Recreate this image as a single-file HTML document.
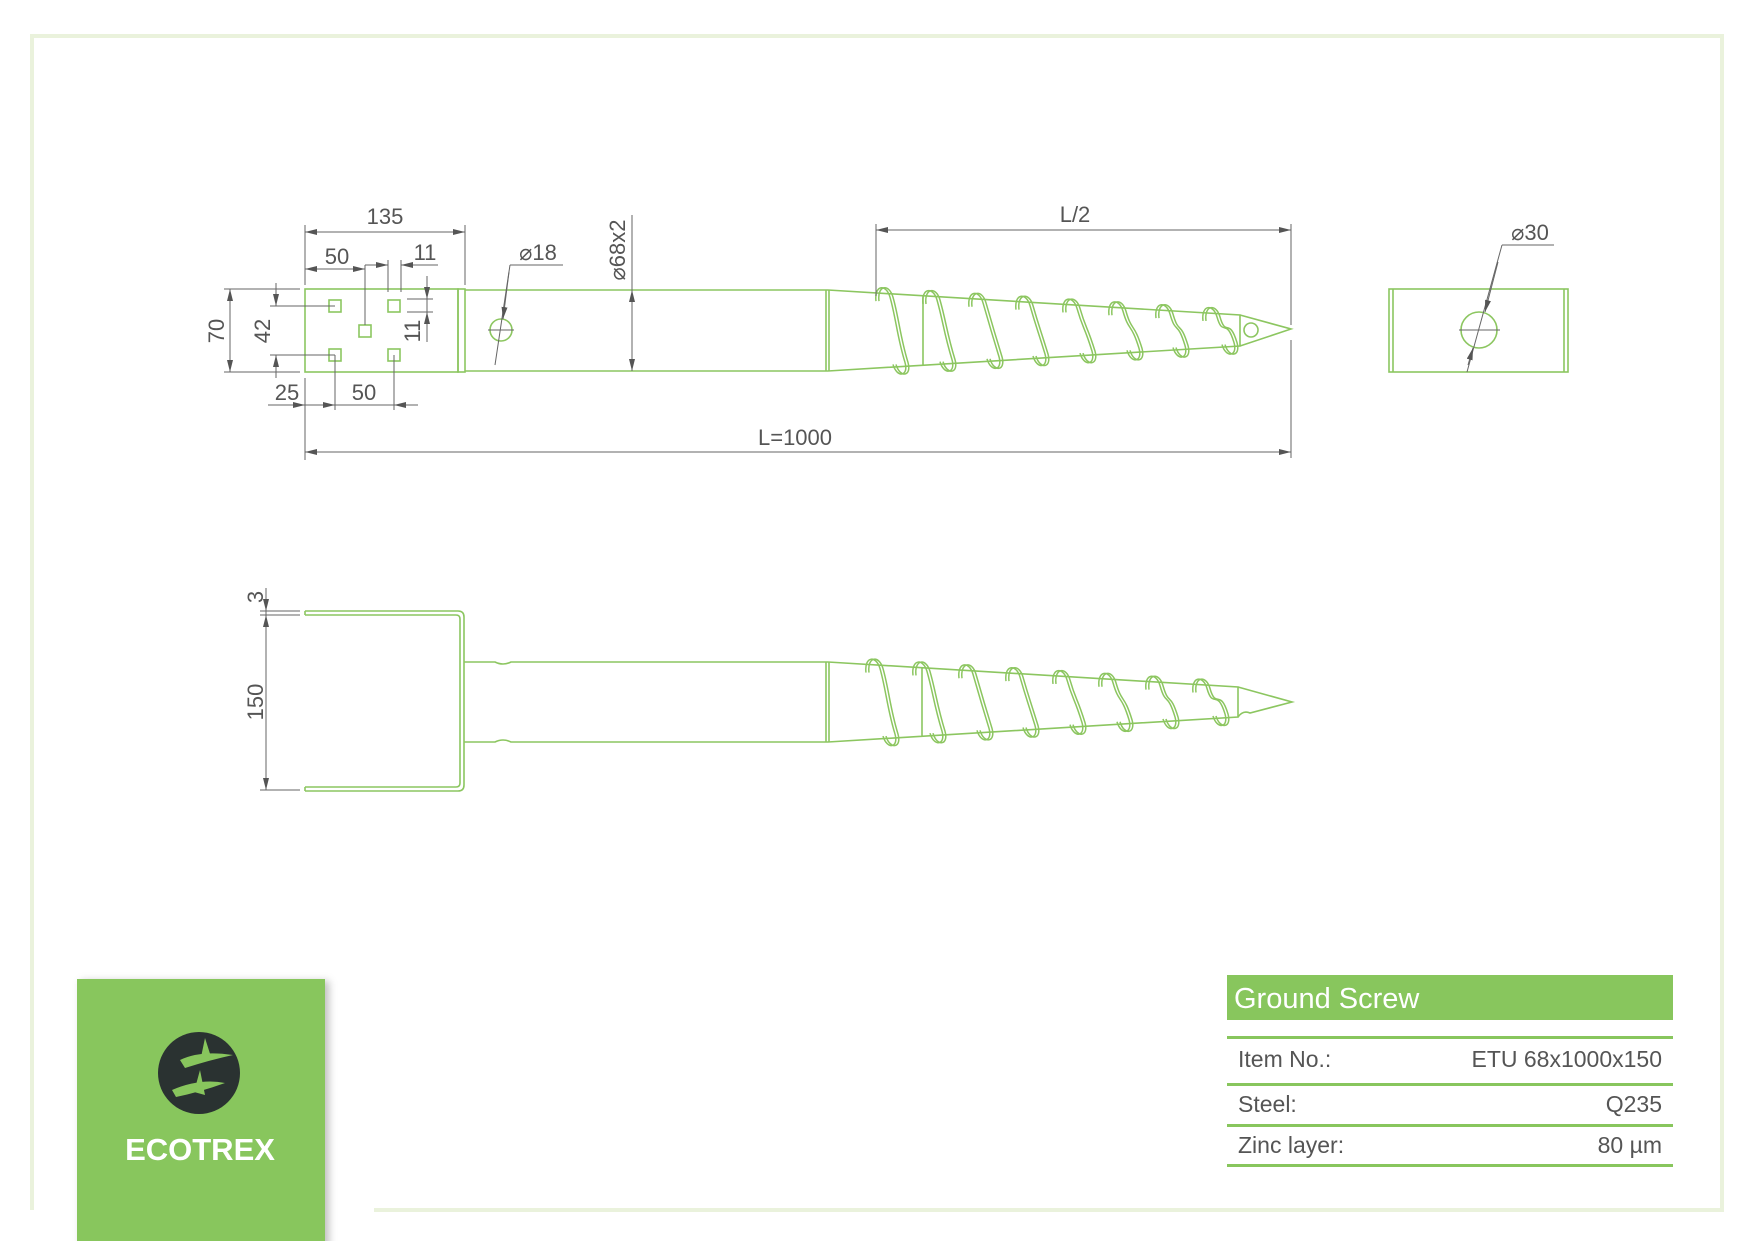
<!DOCTYPE html>
<html><head><meta charset="utf-8"><style>
html,body{margin:0;padding:0;background:#fff;}
svg{display:block;}
text{font-family:"Liberation Sans",sans-serif;}
</style></head><body>
<svg id="s" width="1754" height="1241" viewBox="0 0 1754 1241" xmlns="http://www.w3.org/2000/svg">
<defs>
<marker id="a" viewBox="0 0 12 6" refX="12" refY="3" markerWidth="12" markerHeight="6" orient="auto-start-reverse" markerUnits="userSpaceOnUse"><path d="M0,0 L12,3 L0,6 z" fill="#555"/></marker>
<filter id="sh" x="-10%" y="-10%" width="130%" height="130%"><feDropShadow dx="4" dy="2" stdDeviation="4" flood-color="#000" flood-opacity="0.25"/></filter>
</defs>
<path d="M32,1210 L32,36 L1722,36 L1722,1210 L374,1210" fill="none" stroke="#eaf2dc" stroke-width="4"/>

<g fill="none" stroke="#8cc660" stroke-width="1.6">
<rect x="305" y="289" width="153" height="83"/>
<rect x="458" y="289" width="7" height="83"/>
<rect x="329" y="300" width="12" height="12"/><rect x="359" y="325" width="12" height="12"/>
<rect x="388" y="300" width="12" height="12"/><rect x="329" y="349" width="12" height="12"/>
<rect x="388" y="349" width="12" height="12"/>
<path d="M465,290 L828,290 M465,371 L828,371 M826,290 L826,371 M829,290 L829,371"/>
<circle cx="501" cy="330" r="11"/>
<path d="M828,290 L1240,315 L1240,346 L828,371 M1240,315 L1291,329 L1240,346 M923,296 L923,365"/>
<circle cx="1251" cy="330" r="7"/>
<rect x="1389" y="289" width="179" height="83"/>
<path d="M1393,289 L1393,372 M1564,289 L1564,372"/>
<circle cx="1479" cy="330" r="18"/>
<!-- view2 -->
<path d="M305,611 L458,611 Q464,611 464,617 L464,785 Q464,791 458,791 L305,791 M305,615 L456,615 Q460,615 460,619 L460,783 Q460,787 456,787 L305,787 M305,611 L305,615 M305,787 L305,791"/>
<path d="M464,662 L495,662 Q503,666 511,662 L828,662 M464,742 L495,742 Q503,738 511,742 L828,742 M826,662 L826,742 M829,662 L829,742"/>
<path d="M828,662 L1238,687 L1238,717 L828,742 M1238,687 L1292,702 L1250,713 Q1243,710 1238,717 M922,668 L922,737"/>
</g>
<g id="fl" fill="none" stroke="#8cc660" stroke-width="1.5"></g>

<g fill="none" stroke="#666" stroke-width="1">
<path d="M305,225 L305,285 M465,225 L465,285" />
<line x1="305" y1="232" x2="465" y2="232" marker-start="url(#a)" marker-end="url(#a)"/>
<line x1="305" y1="269" x2="365" y2="269" marker-start="url(#a)" marker-end="url(#a)"/>
<path d="M365,265 L365,325 M388,260 L388,292 M401,260 L401,292 M365,265 L388,265 M401,265 L438,265"/>
<line x1="365" y1="265" x2="388" y2="265" marker-end="url(#a)"/>
<line x1="438" y1="265" x2="401" y2="265" marker-end="url(#a)"/>
<path d="M224,289 L300,289 M224,372 L300,372"/>
<line x1="230" y1="289" x2="230" y2="372" marker-start="url(#a)" marker-end="url(#a)"/>
<path d="M270,306 L335,306 M270,355 L335,355 M276,283 L276,306 M276,355 L276,378"/>
<line x1="276" y1="288" x2="276" y2="306" marker-end="url(#a)"/>
<line x1="276" y1="373" x2="276" y2="355" marker-end="url(#a)"/>
<path d="M407,299 L433,299 M407,312 L433,312 M427,276 L427,342"/>
<line x1="427" y1="280" x2="427" y2="299" marker-end="url(#a)"/>
<line x1="427" y1="332" x2="427" y2="312" marker-end="url(#a)"/>
<path d="M305,378 L305,460 M335,355 L335,410 M394,355 L394,410 M268,405 L418,405"/>
<line x1="288" y1="405" x2="305" y2="405" marker-end="url(#a)"/>
<line x1="320" y1="405" x2="335" y2="405" marker-end="url(#a)"/>
<line x1="418" y1="405" x2="394" y2="405" marker-end="url(#a)"/>
<path d="M1291,340 L1291,458"/>
<line x1="305" y1="452" x2="1291" y2="452" marker-start="url(#a)" marker-end="url(#a)"/>
<path d="M876,224 L876,296 M1291,224 L1291,325"/>
<line x1="876" y1="230" x2="1291" y2="230" marker-start="url(#a)" marker-end="url(#a)"/>
<path d="M510,265 L563,265 M510,265 L495,365 M488,330 L514,330"/>
<line x1="509" y1="272" x2="503" y2="319" marker-end="url(#a)"/>
<path d="M632,215 L632,290"/>
<line x1="632" y1="290" x2="632" y2="371" marker-start="url(#a)" marker-end="url(#a)"/>
<path d="M1502,245 L1554,245 M1502,245 L1467,372 M1459,330 L1500,330"/>
<line x1="1498" y1="262" x2="1485" y2="312" marker-end="url(#a)"/>
<line x1="1468" y1="365" x2="1473" y2="348" marker-end="url(#a)"/>
<!-- view2 dims -->
<path d="M260,611 L300,611 M260,615 L300,615 M260,790 L300,790 M266,588 L266,790"/>
<line x1="266" y1="596" x2="266" y2="611" marker-end="url(#a)"/>
<line x1="266" y1="660" x2="266" y2="615" marker-end="url(#a)"/>
<line x1="266" y1="740" x2="266" y2="790" marker-end="url(#a)"/>
</g>

<g fill="#555" font-size="22">
<text x="385" y="224" text-anchor="middle">135</text>
<text x="337" y="264" text-anchor="middle">50</text>
<text x="425" y="260" text-anchor="middle">11</text>
<text x="287" y="400" text-anchor="middle">25</text>
<text x="364" y="400" text-anchor="middle">50</text>
<text x="795" y="445" text-anchor="middle">L=1000</text>
<text x="1075" y="222" text-anchor="middle">L/2</text>
<text x="538" y="260" text-anchor="middle">⌀18</text>
<text x="1530" y="240" text-anchor="middle">⌀30</text>
<text transform="translate(224,331) rotate(-90)" text-anchor="middle">70</text>
<text transform="translate(270,331) rotate(-90)" text-anchor="middle">42</text>
<text transform="translate(420,331) rotate(-90)" text-anchor="middle">11</text>
<text transform="translate(625,250) rotate(-90)" text-anchor="middle">⌀68x2</text>
<text transform="translate(263,597) rotate(-90)" text-anchor="middle">3</text>
<text transform="translate(263,702) rotate(-90)" text-anchor="middle">150</text>
</g>

<rect x="77" y="979" width="248" height="270" fill="#88c65d" filter="url(#sh)"/>
<circle cx="199" cy="1073" r="41" fill="#2a3231"/>
<path d="M180,1060 Q200,1050 233,1055 Q210,1060 185,1068 Z M172,1090 Q200,1078 225,1083 Q200,1092 176,1097 Z M205,1038 L212,1060 L200,1062 Z M200,1070 L205,1095 L194,1092 Z" fill="#88c65d"/>
<text x="200" y="1160" text-anchor="middle" font-size="31" font-weight="bold" fill="#fff">ECOTREX</text>

<rect x="1227" y="975" width="446" height="45" fill="#88c65d"/>
<text x="1234" y="1008" font-size="29" fill="#fff">Ground Screw</text>
<g fill="#88c65d">
<rect x="1227" y="1036" width="446" height="3"/>
<rect x="1227" y="1083" width="446" height="3"/>
<rect x="1227" y="1124" width="446" height="3"/>
<rect x="1227" y="1164" width="446" height="3"/>
</g>
<g font-size="23" fill="#555">
<text x="1238" y="1067">Item No.:</text>
<text x="1662" y="1067" text-anchor="end">ETU 68x1000x150</text>
<text x="1238" y="1112">Steel:</text>
<text x="1662" y="1112" text-anchor="end">Q235</text>
<text x="1238" y="1153">Zinc layer:</text>
<text x="1662" y="1153" text-anchor="end">80 µm</text>
</g>
</svg>
<script>
(function(){
var g=document.getElementById('fl'),h='';
function fl(t,b,yt,yb){
 var d=function(o){
  return 'M'+(t-4+o)+','+(yt+8)+' C'+(t-6+o)+','+(yt-8)+' '+(t+6+o)+','+(yt-10)+' '+(t+10+o)+','+(yt+4)+
   ' C'+(t+16+o)+','+(yt+25)+' '+(b-6+o)+','+(yb-30)+' '+(b+2+o)+','+(yb-4)+
   ' C'+(b+6+o)+','+(yb+10)+' '+(b-6+o)+','+(yb+12)+' '+(b-10+o)+','+(yb-2);
 };
 h+='<path d="'+d(0)+'"/><path d="'+d(3)+'"/>';
}
var t1=[880,927,973,1020,1067,1113,1160,1207],b1=[903,950,997,1043,1090,1137,1183,1232];
for(var i=0;i<8;i++){var yt=290+(t1[i]-828)*25/413,yb=371-(b1[i]-828)*25/413;fl(t1[i],b1[i],yt,yb);}
var t2=[870,917,963,1010,1057,1103,1150,1197],b2=[893,940,987,1033,1080,1127,1173,1223];
for(var i=0;i<8;i++){var yt=662+(t2[i]-828)*25/410,yb=742-(b2[i]-828)*25/410;fl(t2[i],b2[i],yt,yb);}
g.innerHTML=h;
})();
</script>
</body></html>
